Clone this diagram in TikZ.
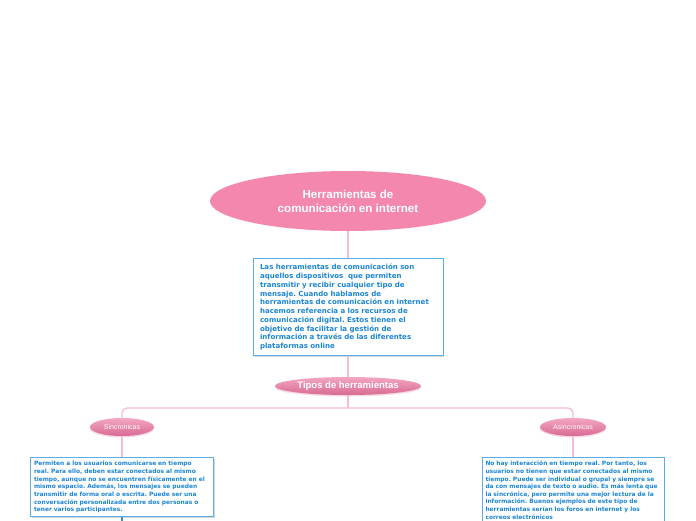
\documentclass[tikz,border=0pt]{standalone}
\usepackage{fontspec}
\setmainfont{Liberation Sans}
\newfontfamily\boxfont{DejaVu Sans}
\usepackage{xcolor}
\usetikzlibrary{shapes.geometric, positioning, shadows}

\definecolor{mainpink}{HTML}{F387AE}
\definecolor{lightpink}{HTML}{F3A6C3}
\definecolor{darkpink}{HTML}{D96A93}
\definecolor{linkpink}{HTML}{F7BDD2}
\definecolor{boxblue}{HTML}{5AAEE6}
\definecolor{textblue}{HTML}{1C86D3}

\begin{document}
\frenchspacing
\begin{tikzpicture}[x=1pt, y=1pt,
    central/.style={ellipse, fill=mainpink, text=white, align=center, inner sep=0pt, minimum width=276pt, minimum height=60pt, font=\fontsize{11.6}{14}\selectfont\bfseries},
    topic/.style={ellipse, top color=lightpink, bottom color=darkpink, draw=none, text=white, inner sep=0pt, minimum height=18pt, drop shadow={shadow xshift=0pt, shadow yshift=-1.5pt, opacity=0.25, fill=darkpink}},
    note/.style={rectangle, draw=boxblue, line width=1pt, fill=white, text=textblue, align=left, inner xsep=3.5pt, inner ysep=4.5pt, drop shadow={shadow xshift=1pt, shadow yshift=-1pt, opacity=0.3}},
    link/.style={draw=linkpink, line width=1.3pt, rounded corners=5pt},
    stub/.style={draw=boxblue!80!black, line width=1.5pt}]

    \clip (0,0) rectangle (696,-520);
    \fill[white] (0,0) rectangle (696,-520);

    \node (main) [central] at (348,-201) {Herramientas de\\comunicación en internet};

    \node (desc) [note, text width=176pt, inner xsep=7pt, inner ysep=5.5pt, font=\boxfont\fontsize{7.05}{8.75}\selectfont\bfseries, below=27pt of main] {
        Las herramientas de comunicación son\\
        aquellos dispositivos\ \ que permiten\\
        transmitir y recibir cualquier tipo de\\
        mensaje. Cuando hablamos de\\
        herramientas de comunicación en internet\\
        hacemos referencia a los recursos de\\
        comunicación digital. Estos tienen el\\
        objetivo de facilitar la gestión de\\
        información a través de las diferentes\\
        plataformas online
    };

    \node (tipos) [topic, minimum width=146pt, font=\fontsize{9.5}{11}\selectfont\bfseries] at (348,-386) {Tipos de herramientas};

    \coordinate (fork) at (348,-408);

    \node (sinc) [topic, minimum width=64pt, font=\fontsize{7}{8}\selectfont] at (122,-427) {Sincronicas};
    \node (asinc) [topic, minimum width=66pt, font=\fontsize{7}{8}\selectfont] at (573,-427) {Asincronicas};

    \node (sincnote) [note, text width=176pt, font=\boxfont\fontsize{5.9}{7.7}\selectfont\bfseries, inner ysep=3.5pt, below=21pt of sinc] {
        Permiten a los usuarios comunicarse en tiempo\\
        real. Para ello, deben estar conectados al mismo\\
        tiempo, aunque no se encuentren físicamente en el\\
        mismo espacio. Además, los mensajes se pueden\\
        transmitir de forma oral o escrita. Puede ser una\\
        conversación personalizada entre dos personas o\\
        tener varios participantes.
    };

    \node (asincnote) [note, text width=175pt, font=\boxfont\fontsize{5.9}{7.6}\selectfont\bfseries, inner ysep=3.5pt, below=21pt of asinc] {
        No hay interacción en tiempo real. Por tanto, los\\
        usuarios no tienen que estar conectados al mismo\\
        tiempo. Puede ser individual o grupal y siempre se\\
        da con mensajes de texto o audio. Es más lenta que\\
        la sincrónica, pero permite una mejor lectura de la\\
        información. Buenos ejemplos de este tipo de\\
        herramientas serían los foros en internet y los\\
        correos electrónicos
    };

    \coordinate (below) at (122,-530);

    \draw [link] (main) -- (desc);
    \draw [link] (desc) -- (tipos);
    \draw [link] (tipos) -- (fork);
    \draw [link] (sinc) |- (fork) -| (asinc);
    \draw [link] (sinc) -- (sincnote);
    \draw [link] (asinc) -- (asincnote);
    \draw [stub] (sincnote) -- (below);

\end{tikzpicture}
\end{document}
